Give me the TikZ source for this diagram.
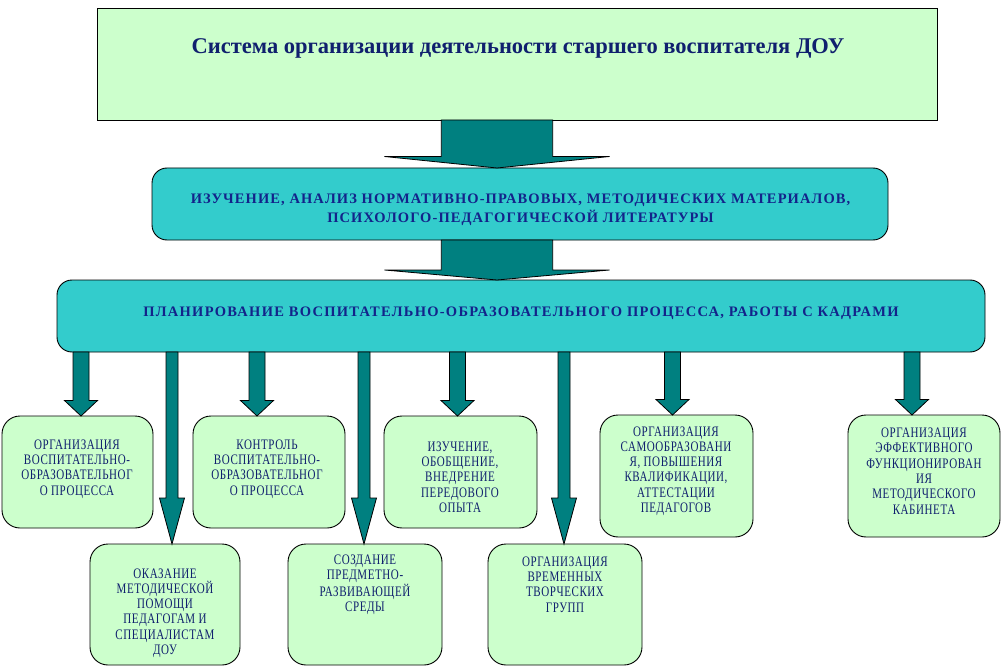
\documentclass[tikz,border=0pt]{standalone}
\usepackage{fontspec}
\setmainfont{Liberation Serif}
\newfontfamily\condserif[FakeStretch=0.76,LetterSpace=4]{Liberation Serif}
\usetikzlibrary{calc}
\definecolor{lgreen}{HTML}{CCFFCC}
\definecolor{tealbox}{HTML}{33CCCC}
\definecolor{tealarr}{HTML}{008080}
\definecolor{navy}{HTML}{10206E}
\definecolor{navyb}{HTML}{13238A}
\newcommand\barrow[5]{%
  \filldraw[arrowshape] let \p1=(#1), \p2=(#2) in
   (\x1-#3pt,\y1) -- (\x1-#3pt,\y2+#5pt) -- (\x1-#4pt,\y2+#5pt) -- (\x2,\y2)
   -- (\x1+#4pt,\y2+#5pt) -- (\x1+#3pt,\y2+#5pt) -- (\x1+#3pt,\y1) -- cycle;}
\tikzset{
  arrowshape/.style={fill=tealarr, draw=black, line width=0.8pt, line join=miter},
  topbox/.style={draw=black, fill=lgreen, line width=0.9pt, inner sep=0pt, outer sep=0pt},
  tealrect/.style={draw=black, fill=tealbox, line width=0.9pt, rounded corners=15pt, inner sep=0pt, outer sep=0pt},
  greenbox/.style={draw=black, fill=lgreen, line width=0.9pt, rounded corners=18pt, inner sep=0pt, outer sep=0pt},
  titletext/.style={text=navy, font=\fontsize{22.5}{26}\selectfont\bfseries, inner sep=0pt},
  boldcaps/.style={text=navyb, font=\fontsize{14.5}{19}\selectfont\bfseries\addfontfeature{LetterSpace=7.5}, align=center, inner sep=0pt},
  plancaps/.style={text=navyb, font=\fontsize{14.5}{19}\selectfont\bfseries\addfontfeature{LetterSpace=8.8}, align=center, inner sep=0pt},
  smalltext/.style={text=navy, font=\fontsize{14.5}{15.3}\condserif, align=center, inner sep=0pt}
}
\begin{document}
\begin{tikzpicture}[x=1pt,y=-1pt]
\useasboundingbox (0,0) rectangle (1002,666);
\fill[white] (0,0) rectangle (1002,666);
% main boxes
\node[topbox, minimum width=840pt, minimum height=112pt] (sys) at (517,64) {};
\node[titletext] (tsys) at (518,48) {Система организации деятельности старшего воспитателя ДОУ};
\node[tealrect, minimum width=736pt, minimum height=72pt] (study) at (520,204) {};
\node[boldcaps] (tstudy) at (520.5,209.5) {ИЗУЧЕНИЕ, АНАЛИЗ НОРМАТИВНО-ПРАВОВЫХ, МЕТОДИЧЕСКИХ МАТЕРИАЛОВ,\\ПСИХОЛОГО-ПЕДАГОГИЧЕСКОЙ ЛИТЕРАТУРЫ};
\node[tealrect, minimum width=928pt, minimum height=72pt] (plan) at (521,316) {};
\node[plancaps] (tplan) at (521,313) {ПЛАНИРОВАНИЕ ВОСПИТАТЕЛЬНО-ОБРАЗОВАТЕЛЬНОГО ПРОЦЕССА, РАБОТЫ С КАДРАМИ};
% small boxes
\node[greenbox, minimum width=151pt, minimum height=112pt] (A) at (77.5,472) {};
\node[greenbox, minimum width=152pt, minimum height=112pt] (B) at (269,472) {};
\node[greenbox, minimum width=153pt, minimum height=112pt] (C) at (460.5,472) {};
\node[greenbox, minimum width=153pt, minimum height=122pt] (D) at (676.5,476) {};
\node[greenbox, minimum width=152pt, minimum height=122pt] (E) at (924,476) {};
\node[greenbox, minimum width=150pt, minimum height=121pt] (F) at (165,604.5) {};
\node[greenbox, minimum width=154pt, minimum height=121pt] (G) at (365,604.5) {};
\node[greenbox, minimum width=154pt, minimum height=121pt] (H) at (565,604.5) {};
\node[smalltext] (tA) at (77,469) {ОРГАНИЗАЦИЯ\\ВОСПИТАТЕЛЬНО-\\ОБРАЗОВАТЕЛЬНОГ\\О ПРОЦЕССА};
\node[smalltext] (tB) at (267,469) {КОНТРОЛЬ\\ВОСПИТАТЕЛЬНО-\\ОБРАЗОВАТЕЛЬНОГ\\О ПРОЦЕССА};
\node[smalltext] (tC) at (460,477) {ИЗУЧЕНИЕ,\\ОБОБЩЕНИЕ,\\ВНЕДРЕНИЕ\\ПЕРЕДОВОГО\\ОПЫТА};
\node[smalltext] (tD) at (676,471) {ОРГАНИЗАЦИЯ\\САМООБРАЗОВАНИ\\Я, ПОВЫШЕНИЯ\\КВАЛИФИКАЦИИ,\\АТТЕСТАЦИИ\\ПЕДАГОГОВ};
\node[smalltext] (tE) at (924,471) {ОРГАНИЗАЦИЯ\\ЭФФЕКТИВНОГО\\ФУНКЦИОНИРОВАН\\ИЯ\\МЕТОДИЧЕСКОГО\\КАБИНЕТА};
\node[smalltext] (tF) at (165,613) {ОКАЗАНИЕ\\МЕТОДИЧЕСКОЙ\\ПОМОЩИ\\ПЕДАГОГАМ И\\СПЕЦИАЛИСТАМ\\ДОУ};
\node[smalltext] (tG) at (365,584.6) {СОЗДАНИЕ\\ПРЕДМЕТНО-\\РАЗВИВАЮЩЕЙ\\СРЕДЫ};
\node[smalltext] (tH) at (565,584.6) {ОРГАНИЗАЦИЯ\\ВРЕМЕННЫХ\\ТВОРЧЕСКИХ\\ГРУПП};
% arrow x positions
\coordinate (xm) at (497,0);
\coordinate (x1) at (81,0);
\coordinate (x2) at (172,0);
\coordinate (x3) at (257,0);
\coordinate (x4) at (364,0);
\coordinate (x5) at (457.5,0);
\coordinate (x6) at (564,0);
\coordinate (x7) at (672.5,0);
\coordinate (x8) at (912,0);
% arrows
\barrow{sys.south -| xm}{study.north -| xm}{55.7}{112.5}{11.5}
\barrow{study.south -| xm}{plan.north -| xm}{55.7}{112.5}{10}
\barrow{plan.south -| x1}{A.north -| x1}{8}{16.5}{15.5}
\barrow{plan.south -| x3}{B.north -| x3}{8}{16.5}{15.5}
\barrow{plan.south -| x5}{C.north -| x5}{8}{16.5}{15.5}
\barrow{plan.south -| x7}{D.north -| x7}{8}{16.5}{15.5}
\barrow{plan.south -| x8}{E.north -| x8}{8}{16.5}{15.5}
\barrow{plan.south -| x2}{F.north -| x2}{6}{12.5}{46}
\barrow{plan.south -| x4}{G.north -| x4}{6}{12.5}{46}
\barrow{plan.south -| x6}{H.north -| x6}{6}{12.5}{46}
\end{tikzpicture}
\end{document}
